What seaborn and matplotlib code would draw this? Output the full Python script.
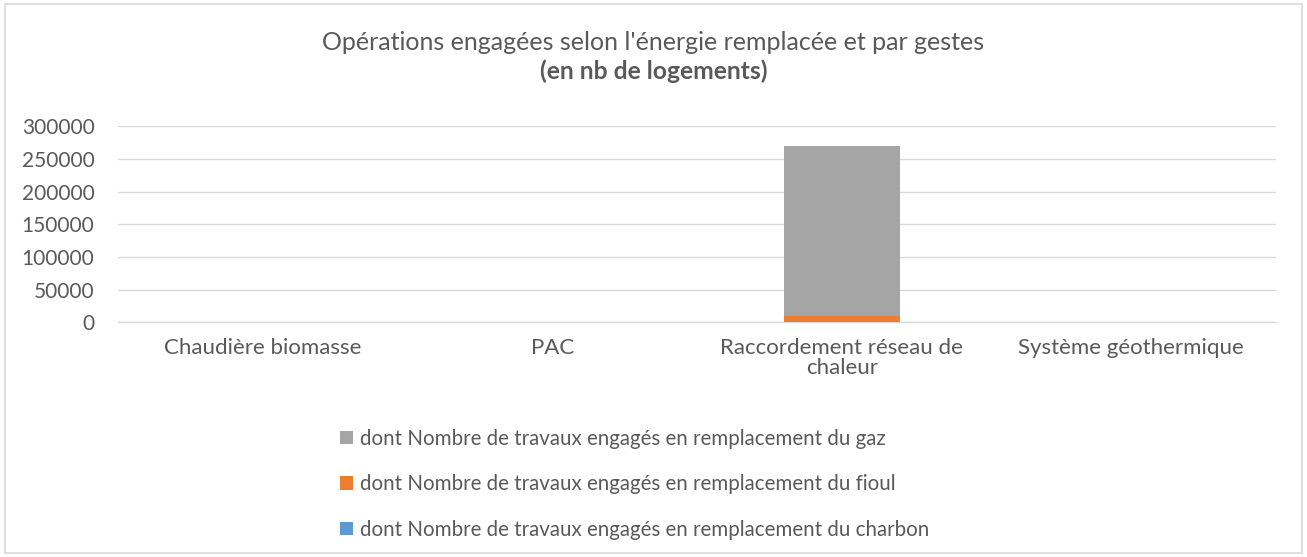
import numpy as np
import pandas as pd
import matplotlib.pyplot as plt
import seaborn as sns
from matplotlib.patches import Patch, Rectangle

sns.set_style("white")
plt.rcParams['font.family'] = ['Lato', 'DejaVu Sans']

# Data (nb de logements)
categories = ['Chaudière biomasse', 'PAC', 'Raccordement réseau de\nchaleur', 'Système géothermique']
charbon = [0, 0, 1000, 0]
fioul = [0, 0, 9000, 0]
gaz = [0, 0, 260000, 0]

labels = ['dont Nombre de travaux engagés en remplacement du charbon',
          'dont Nombre de travaux engagés en remplacement du fioul',
          'dont Nombre de travaux engagés en remplacement du gaz']
colors = ['#5B9BD5', '#ED7D31', '#A5A5A5']

df = pd.DataFrame({'cat': categories, 'charbon': charbon, 'fioul': fioul, 'gaz': gaz})
df['c1'] = df['charbon']
df['c2'] = df['c1'] + df['fioul']
df['c3'] = df['c2'] + df['gaz']

fig = plt.figure(figsize=(13.07, 5.57), dpi=100)
ax = fig.add_axes([0.0903, 0.4214, 0.8860, 0.3519])

# stacked bars: draw cumulative totals from top to bottom
for col, c in zip(['c3', 'c2', 'c1'], colors[::-1]):
    sns.barplot(data=df, x='cat', y=col, color=c, width=0.4, ax=ax,
                saturation=1, edgecolor='none', zorder=3)

ax.set_ylim(0, 300000)
ax.set_yticks(np.arange(0, 300001, 50000))
ax.set_xlim(-0.5, 3.5)
ax.set_xlabel('')
ax.set_ylabel('')
ax.grid(axis='y', color='#D9D9D9', linewidth=1, zorder=0)
for s in ['left', 'right', 'top']:
    ax.spines[s].set_visible(False)
ax.spines['bottom'].set_color('#D9D9D9')
ax.spines['bottom'].set_linewidth(1)
ax.tick_params(axis='both', length=0, colors='#595959')
ax.tick_params(axis='y', pad=17, labelsize=15)
ax.tick_params(axis='x', pad=11, labelsize=16)
for t in ax.get_xticklabels():
    t.set_linespacing(1.0)

fig.text(0.5, 0.910, "Opérations engagées selon l'énergie remplacée et par gestes",
         ha='center', va='baseline', fontsize=18, color='#595959')
fig.text(0.5, 0.858, "(en nb de logements)", ha='center', va='baseline',
         fontsize=17.7, fontweight='bold', color='#595959')

handles = [Patch(facecolor=c, edgecolor='none') for c in colors[::-1]]
fig.legend(handles, labels[::-1], loc='upper left', bbox_to_anchor=(0.2601, 0.2307),
           frameon=False, fontsize=14.8, labelcolor='#595959', ncol=1,
           handlelength=0.63, handleheight=0.63, handletextpad=0.34, labelspacing=1.25,
           borderaxespad=0, borderpad=0)

fig.patches.append(Rectangle((0.004, 0.007), 0.992, 0.986, transform=fig.transFigure,
                             fill=False, edgecolor='#D9D9D9', linewidth=1.2))

fig.savefig('out.png', dpi=100)
